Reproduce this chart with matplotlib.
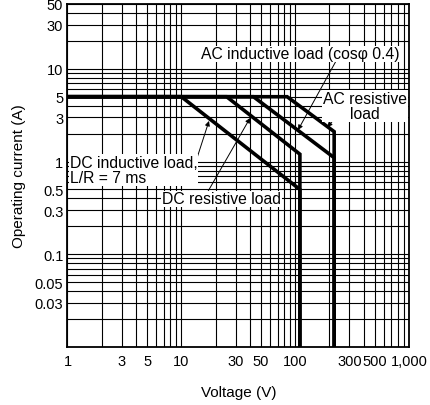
import numpy as np
import matplotlib.pyplot as plt
from matplotlib.ticker import FixedLocator, FixedFormatter, LogLocator, NullFormatter

plt.rcParams['font.family'] = ['Liberation Sans', 'DejaVu Sans']

# === Dados (tensão em V, corrente em A)
dc_ind_v = [1, 10, 110, 110]
dc_ind_i = [5, 5, 0.5, 0.01]
dc_res_v = [1, 25, 110, 110]
dc_res_i = [5, 5, 1.2, 0.01]
ac_ind_v = [1, 43, 220, 220]
ac_ind_i = [5, 5, 1.1, 0.01]
ac_res_v = [1, 85, 220, 220]
ac_res_i = [5, 5, 2.1, 0.01]

x_ticks = [1, 3, 5, 10, 30, 50, 100, 300, 500, 1000]
x_labels = ['1', '3', '5', '10', '30', '50', '100', '300', '500', '1,000']
y_ticks = [0.03, 0.05, 0.1, 0.3, 0.5, 1, 3, 5, 10, 30, 50]
y_labels = ['0.03', '0.05', '0.1', '0.3', '0.5', '1', '3', '5', '10', '30', '50']

# === Gráfico
fig = plt.figure(figsize=(4.31, 4.06), dpi=100)
ax = fig.add_axes([0.1566, 0.1429, 0.7924, 0.8448])
ax.set_xscale('log')
ax.set_yscale('log')
ax.set_xlim(1, 1000)
ax.set_ylim(0.01, 50)

for v, i in [(dc_ind_v, dc_ind_i), (dc_res_v, dc_res_i),
             (ac_ind_v, ac_ind_i), (ac_res_v, ac_res_i)]:
    ax.plot(v, i, color='black', lw=2.6, solid_joinstyle='miter', zorder=3)

ax.xaxis.set_major_locator(FixedLocator(x_ticks))
ax.xaxis.set_major_formatter(FixedFormatter(x_labels))
ax.yaxis.set_major_locator(FixedLocator(y_ticks))
ax.yaxis.set_major_formatter(FixedFormatter(y_labels))
ax.xaxis.set_minor_locator(LogLocator(base=10, subs=np.arange(2, 10)))
ax.yaxis.set_minor_locator(LogLocator(base=10, subs=np.arange(2, 10)))
ax.xaxis.set_minor_formatter(NullFormatter())
ax.yaxis.set_minor_formatter(NullFormatter())
ax.tick_params(which='both', length=0, labelsize=10.5, colors='black')
ax.tick_params(axis='x', pad=5)
ax.tick_params(axis='y', pad=3)

ax.grid(True, which='both', color='black', lw=0.8)
for s in ax.spines.values():
    s.set_linewidth(1.3)

ax.set_xlabel('Voltage (V)', fontsize=11, labelpad=12)
ax.set_ylabel('Operating current (A)', fontsize=11, labelpad=6)

fs = 11.3
box = dict(facecolor='white', edgecolor='none', pad=0.6)
ax.text(14.9, 14.5, 'AC inductive load (cos\u03c6 0.4)', fontsize=fs,
        ha='left', va='center', bbox=box, zorder=4)
ax.text(411, 3.98, 'AC resistive\nload', fontsize=fs, ha='center',
        va='center', multialignment='center', linespacing=1.05, bbox=box, zorder=4)
ax.text(1.05, 0.81, 'DC inductive load,\nL/R = 7 ms', fontsize=fs,
        ha='left', va='center', linespacing=1.05, bbox=box, zorder=4)
ax.text(6.77, 0.395, 'DC resistive load', fontsize=fs, ha='left',
        va='center', bbox=box, zorder=4)

# setas finas (ficam por baixo das caixas de texto)
arrow = dict(arrowstyle='-|>', color='black', lw=0.7, mutation_scale=7,
             shrinkA=0, shrinkB=0)
ax.annotate('', xy=(106, 2.19), xytext=(229, 12.2), arrowprops=arrow, zorder=3.5)
ax.annotate('', xy=(191, 2.36), xytext=(258, 3.5), arrowprops=arrow, zorder=3.5)
ax.annotate('', xy=(17.5, 2.74), xytext=(13.2, 0.94), arrowprops=arrow, zorder=3.5)
ax.annotate('', xy=(40.2, 2.95), xytext=(17.2, 0.48), arrowprops=arrow, zorder=3.5)

plt.savefig('out.png', dpi=100)
